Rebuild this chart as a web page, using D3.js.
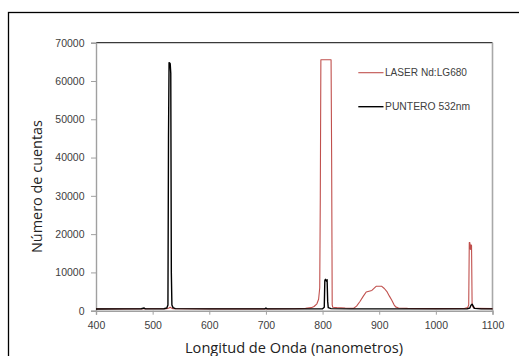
<!DOCTYPE html>
<html><head><meta charset="utf-8">
<script src="https://cdn.jsdelivr.net/npm/d3@7"></script>
<style>
html,body{margin:0;padding:0;background:#fff;}
svg{display:block;}
text{font-family:"Liberation Sans",Arial,sans-serif;}
</style></head>
<body><svg id="c" width="519" height="356"></svg>
<script>
const xTicks = [400,500,600,700,800,900,1000,1100];
const yTicks = [0,10000,20000,30000,40000,50000,60000,70000];
const seriesNames = ["LASER Nd:LG680","PUNTERO 532nm"];
const seriesColors = ["#c0504d","#000000"];

const laserX = [400,450,500,525,529,531,533,536,600,650,700,750,770,780,785,790,793,795,796,797,815,816,817,818,825,840,855,860,866,872,877,887,895,904,909,914,918,922,926,929,934,950,1000,1050,1056,1058,1059,1060,1061,1062,1063,1064,1066,1070,1100];
const laserY = [480,480,490,500,700,900,700,500,480,470,480,520,600,800,1100,1800,3000,6000,30000,65535,65535,40000,1500,900,800,700,650,1200,2400,3800,4900,5300,6400,6400,5800,4900,3800,2800,1600,1000,700,600,550,580,800,1500,17800,17800,16000,17200,17000,1500,800,600,550];

const punteroX = [400,450,480,485,487,520,525,527,528,529,530,531,532,533,534,536,540,600,650,698,700,702,750,790,800,803,804,805,806,807,808,809,810,815,850,900,950,1000,1055,1060,1062,1064,1066,1068,1080,1100];
const punteroY = [450,480,500,700,480,520,700,1500,45000,64800,64700,64500,62000,10000,1500,800,550,480,470,480,700,480,470,480,520,900,7900,8200,8000,7700,8100,2500,800,550,480,470,470,470,480,700,1400,1700,1200,600,480,470];

const svg = d3.select("#c");
// outer chart frame
svg.append("rect").attr("x",8.5).attr("y",12.5).attr("width",540).attr("height",380)
  .attr("fill","#fff").attr("stroke","#000").attr("stroke-width",1.3);

const x = d3.scaleLinear().domain([400,1100]).range([96,492.5]);
const y = d3.scaleLinear().domain([0,70000]).range([310.7,42.7]);

// plot area border (top dark, right gray)
svg.append("line").attr("x1",96).attr("x2",492.5).attr("y1",42.7).attr("y2",42.7)
  .attr("stroke","#3a3a3a").attr("stroke-width",1.2);
svg.append("line").attr("x1",492.5).attr("x2",492.5).attr("y1",42.7).attr("y2",310.7)
  .attr("stroke","#a8a8a8").attr("stroke-width",1.6);

const yAxis = svg.append("g").attr("transform","translate(96,0)")
  .call(d3.axisLeft(y).tickValues(yTicks).tickSize(5).tickPadding(6.5).tickFormat(d3.format("d")));
const xAxis = svg.append("g").attr("transform","translate(0,310.7)")
  .call(d3.axisBottom(x).tickValues(xTicks).tickSize(4).tickPadding(7).tickFormat(d3.format("d")));
[yAxis,xAxis].forEach(g=>{
  g.select(".domain").attr("stroke","#a0a0a0").attr("stroke-width",1.4);
  g.selectAll(".tick line").attr("stroke","#a0a0a0").attr("stroke-width",1);
  g.selectAll("text").attr("fill","#404040").style("font-size","10.5px")
   .style("font-family","'Liberation Sans',Arial,sans-serif");
});

const line = d3.line().x(d=>x(d[0])).y(d=>y(d[1]));
const laser = laserX.map((v,i)=>[v,laserY[i]]);
const puntero = punteroX.map((v,i)=>[v,punteroY[i]]);
svg.append("path").datum(laser).attr("d",line).attr("fill","none")
  .attr("stroke",seriesColors[0]).attr("stroke-width",1.1).attr("stroke-linejoin","round");
svg.append("path").datum(puntero).attr("d",line).attr("fill","none")
  .attr("stroke",seriesColors[1]).attr("stroke-width",1.4).attr("stroke-linejoin","round");

// legend
const legY = [72.7,106.7];
seriesNames.forEach((n,i)=>{
  svg.append("line").attr("x1",358.3).attr("x2",383.5).attr("y1",legY[i]).attr("y2",legY[i])
    .attr("stroke",seriesColors[i]).attr("stroke-width",i?1.4:1.1);
  svg.append("text").attr("x",385).attr("y",legY[i]).attr("dy","0.35em")
    .attr("fill","#404040").style("font-size","10px")
    .attr("textLength", i?85:82).attr("lengthAdjust","spacingAndGlyphs").text(n);
});

// axis titles
svg.append("text").attr("x",294).attr("y",352.5).attr("text-anchor","middle")
  .attr("fill","#222").style("font-size","14px").style("font-family","'Open Sans',sans-serif")
  .attr("textLength",218).attr("lengthAdjust","spacingAndGlyphs").text("Longitud de Onda (nanometros)");
svg.append("text").attr("transform","translate(42,186.5) rotate(-90)").attr("text-anchor","middle")
  .attr("fill","#222").style("font-size","14px").style("font-family","'Open Sans',sans-serif")
  .attr("textLength",133).attr("lengthAdjust","spacingAndGlyphs").text("Número de cuentas");
</script></body></html>
